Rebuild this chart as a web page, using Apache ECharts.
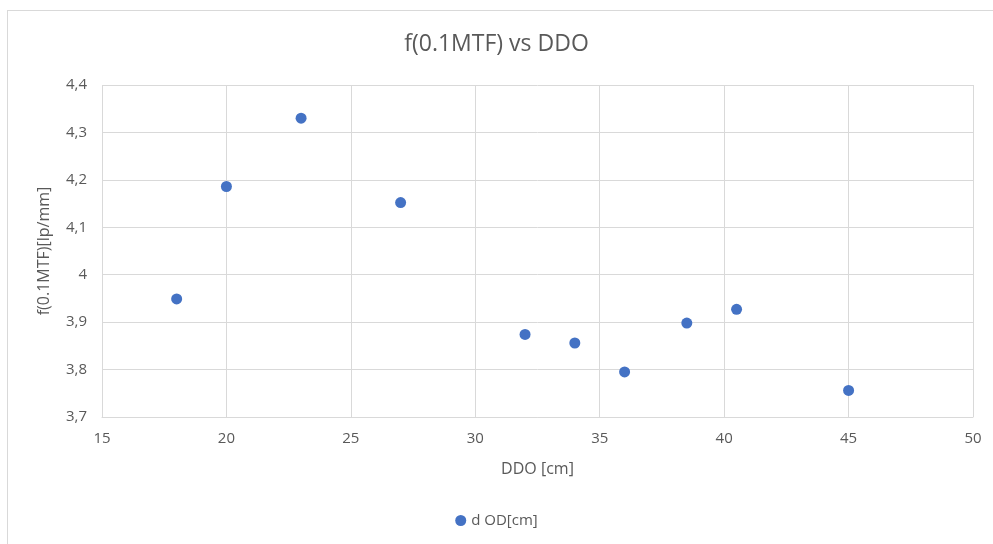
<!DOCTYPE html>
<html>
<head>
<meta charset="utf-8">
<script src="https://cdn.jsdelivr.net/npm/echarts@6/dist/echarts.min.js"></script>
<style>
html,body{margin:0;padding:0;background:#fff;}
#frame{position:absolute;left:7px;top:10px;width:1000px;height:600px;border:1px solid #d9d9d9;box-sizing:border-box;}
#chart{position:absolute;left:0;top:0;width:993px;height:544px;}
</style>
</head>
<body>
<div id="frame"></div>
<div id="chart"></div>
<script>
var ddo = [18, 20, 23, 27, 32, 34, 36, 38.5, 40.5, 45];
var fMTF = [3.949, 4.186, 4.330, 4.152, 3.874, 3.856, 3.795, 3.898, 3.927, 3.756];
var seriesName = 'd OD[cm]';
var titleText = 'f(0.1MTF) vs DDO';
var xAxisName = 'DDO [cm]';
var yAxisName = 'f(0.1MTF)[lp/mm]';

var points = ddo.map(function (x, i) { return [x, fMTF[i]]; });
var font = 'Open Sans';
var textColor = '#595959';

var chart = echarts.init(document.getElementById('chart'), null, {renderer: 'canvas'});
chart.setOption({
  backgroundColor: 'transparent',
  animation: false,
  title: {
    text: titleText,
    left: 'center',
    top: 28,
    textStyle: {fontFamily: font, fontSize: 23, fontWeight: 'normal', color: textColor}
  },
  legend: {
    bottom: 11,
    left: 'center',
    itemWidth: 11,
    itemHeight: 11,
    itemGap: 5,
    data: [{name: seriesName, icon: 'circle'}],
    textStyle: {fontFamily: font, fontSize: 15, color: textColor}
  },
  grid: {left: 102, right: 20, top: 85, bottom: 127},
  xAxis: {
    type: 'value',
    min: 15, max: 50, interval: 5,
    name: xAxisName,
    nameLocation: 'middle',
    nameGap: 44,
    nameTextStyle: {fontFamily: font, fontSize: 16, color: textColor},
    axisLine: {show: true, lineStyle: {color: '#d9d9d9'}},
    axisTick: {show: false},
    axisLabel: {fontFamily: font, fontSize: 15, color: textColor, margin: 14},
    splitLine: {show: true, lineStyle: {color: '#d9d9d9', width: 1}}
  },
  yAxis: {
    type: 'value',
    min: 3.7, max: 4.4, interval: 0.1,
    name: yAxisName,
    nameLocation: 'middle',
    nameGap: 50,
    nameTextStyle: {fontFamily: font, fontSize: 16, color: textColor},
    axisLine: {show: false},
    axisTick: {show: false},
    axisLabel: {
      fontFamily: font, fontSize: 15, color: textColor, margin: 15,
      formatter: function (v) { return String(Math.round(v * 10) / 10).replace('.', ','); }
    },
    splitLine: {show: true, lineStyle: {color: '#d9d9d9', width: 1}}
  },
  series: [{
    name: seriesName,
    type: 'scatter',
    symbol: 'circle',
    symbolSize: 11,
    itemStyle: {color: '#4472C4', opacity: 1},
    data: points
  }]
});
</script>
</body>
</html>
